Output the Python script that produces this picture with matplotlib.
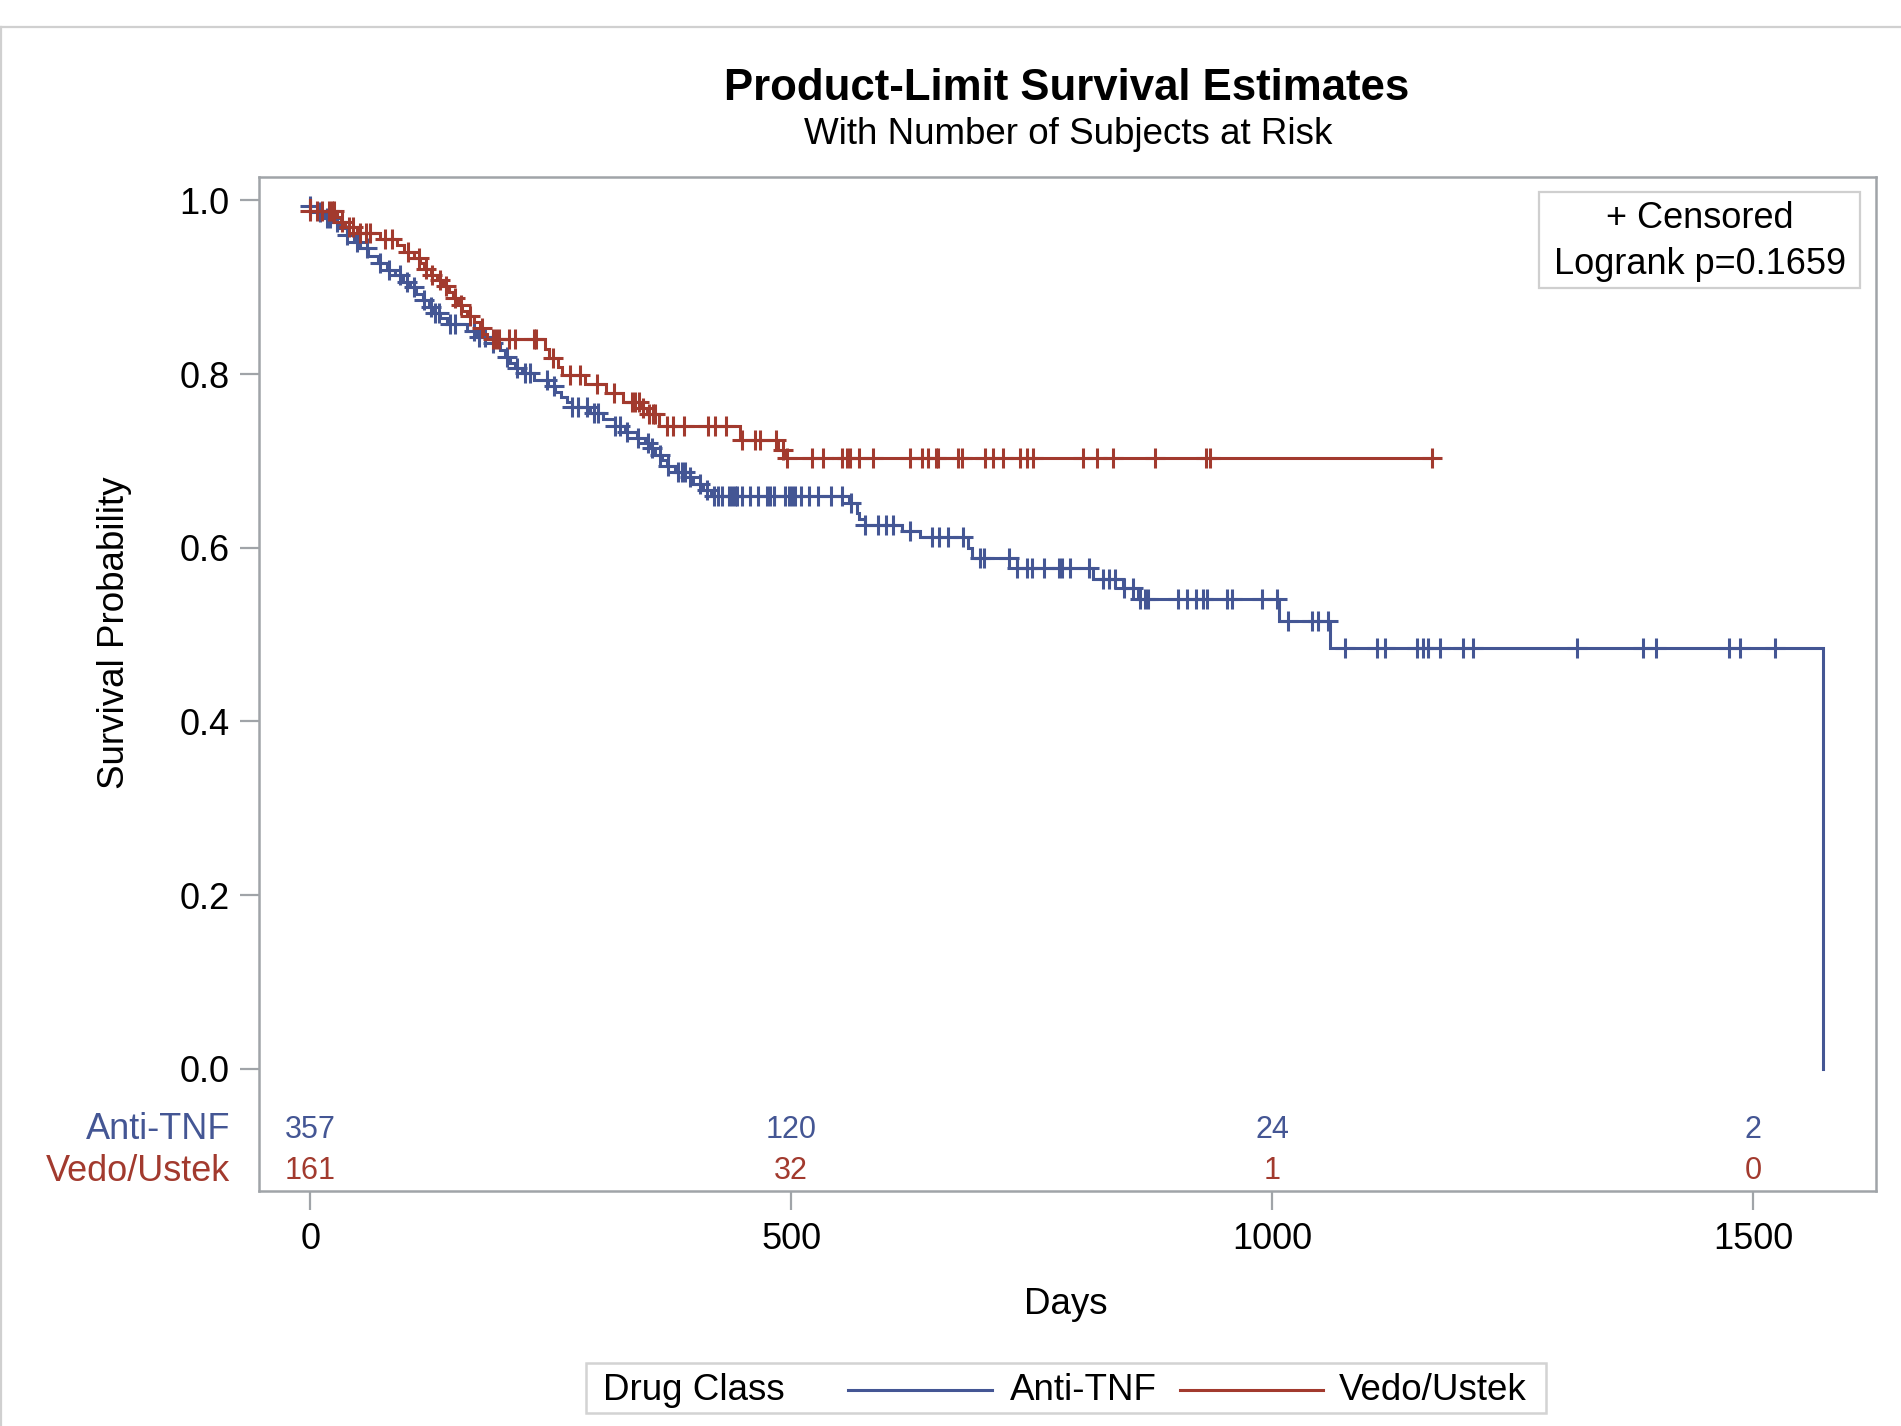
import numpy as np
import matplotlib
matplotlib.use("Agg")
import matplotlib.pyplot as plt
from matplotlib.patches import Rectangle
from matplotlib.lines import Line2D
import matplotlib.transforms as mtransforms

plt.rcParams['font.family'] = ['Liberation Sans', 'DejaVu Sans']

# ---------------- data ----------------
groups = ["Anti-TNF", "Vedo/Ustek"]
colors = ["#445694", "#A23A2E"]

tnf_event_days = [0, 8, 15, 22, 30, 38, 45, 52, 60, 70, 80, 88, 96, 104, 110, 117, 123, 128, 135, 142,
                  163, 173, 190, 197, 202, 208, 213, 220, 233, 247, 254, 261, 267, 272, 291, 304, 317, 327, 340, 348,
                  353, 358, 366, 371, 379, 395, 398, 408, 417, 560, 568, 570, 577, 615, 634, 684, 688, 735, 814, 845,
                  861, 1007, 1060, 1573]
tnf_surv = [0.994, 0.986, 0.980, 0.975, 0.968, 0.960, 0.952, 0.945, 0.936, 0.928, 0.920, 0.914, 0.906, 0.900,
            0.892, 0.885, 0.877, 0.870, 0.864, 0.858, 0.850, 0.843, 0.836, 0.828, 0.820, 0.813, 0.807, 0.801,
            0.793, 0.786, 0.779, 0.774, 0.768, 0.762, 0.755, 0.748, 0.740, 0.733, 0.726, 0.720, 0.715, 0.707,
            0.701, 0.694, 0.687, 0.681, 0.673, 0.666, 0.659, 0.652, 0.640, 0.633, 0.626, 0.619, 0.612, 0.600,
            0.588, 0.577, 0.564, 0.554, 0.541, 0.516, 0.485, 0.0]
tnf_end = 1573
tnf_censor = [0, 10, 17, 20, 28, 38, 48, 59, 72, 82, 93, 100, 108, 118, 125, 130, 134, 145, 150, 170, 175, 182,
              190, 204, 215, 223, 228, 246, 253, 272, 278, 288, 295, 299, 317, 322, 329, 341, 351, 355, 363, 372,
              382, 386, 390, 395, 405, 412, 420, 424, 428, 435, 438, 441, 444, 449, 457, 465, 475, 478, 482, 494,
              498, 501, 504, 510, 518, 528, 541, 553, 562, 577, 590, 598, 606, 623, 646, 654, 663, 679, 696, 700,
              726, 735, 745, 750, 763, 778, 782, 790, 810, 824, 830, 837, 846, 855, 863, 868, 871, 902, 911, 921,
              928, 932, 953, 958, 989, 1005, 1016, 1041, 1048, 1058, 1076, 1109, 1117, 1151, 1157, 1162, 1175,
              1198, 1209, 1317, 1386, 1399, 1475, 1486, 1523]

vedo_event_days = [0, 28, 32, 36, 48, 72, 90, 97, 108, 114, 118, 125, 132, 138, 144, 148, 153, 158, 163, 170,
                   176, 180, 184, 244, 248, 257, 262, 286, 307, 325, 345, 350, 362, 447, 486, 492]
vedo_surv = [0.988, 0.981, 0.975, 0.969, 0.962, 0.955, 0.948, 0.941, 0.934, 0.928, 0.921, 0.914, 0.908, 0.901,
             0.894, 0.887, 0.880, 0.873, 0.867, 0.860, 0.853, 0.846, 0.840, 0.829, 0.818, 0.808, 0.799, 0.788,
             0.778, 0.768, 0.761, 0.754, 0.740, 0.724, 0.713, 0.703]
vedo_end = 1166
vedo_censor = [0, 7, 12, 19, 22, 25, 33, 40, 44, 52, 58, 62, 78, 85, 102, 113, 120, 126, 135, 141, 150, 157, 166,
               178, 190, 193, 196, 206, 213, 232, 235, 252, 270, 280, 298, 316, 334, 338, 342, 346, 352, 356, 358,
               371, 377, 388, 413, 421, 432, 449, 462, 468, 484, 491, 496, 522, 533, 553, 558, 561, 570, 585, 623,
               636, 642, 650, 653, 673, 678, 701, 710, 720, 738, 745, 751, 803, 818, 834, 878, 931, 935, 1166]

risk_days = [0, 500, 1000, 1500]
tnf_at_risk = [357, 120, 24, 2]
vedo_at_risk = [161, 32, 1, 0]

x_ticks = [0, 500, 1000, 1500]
y_ticks = [0.0, 0.2, 0.4, 0.6, 0.8, 1.0]

# ---------------- figure ----------------
W, H = 1901, 1426
fig = plt.figure(figsize=(W / 100, H / 100), dpi=100)

def fx(px):
    return px / W

def fy(py):
    return 1 - py / H

L, R, T, B = 259.3, 1875.6, 176.7, 1191.0
ax = fig.add_axes([fx(L), fy(B), fx(R) - fx(L), fy(T) - fy(B)])
ax.set_xlim(-53.1, 1627.4)
ax.set_ylim(-0.1407, 1.0272)

spine_col = "#a0a4a8"
for s in ax.spines.values():
    s.set_color(spine_col)
    s.set_linewidth(1.8)

ax.set_xticks(x_ticks)
ax.set_xticklabels([str(v) for v in x_ticks])
ax.set_yticks(y_ticks)
ax.set_yticklabels([f"{v:.1f}" for v in y_ticks])
ax.tick_params(axis='both', direction='out', length=13.5, width=1.6, color=spine_col,
               labelsize=26, labelcolor='black')
ax.tick_params(axis='y', pad=8)
ax.tick_params(axis='x', pad=9)


def km_draw(days, surv, end, censor, color, z):
    xs = np.array([0] + list(days) + [end], dtype=float)
    ys = np.array([1.0] + list(surv) + [surv[-1]], dtype=float)
    ax.step(xs, ys, where='post', color=color, lw=2.2, zorder=z, solid_joinstyle='miter')
    dfull = np.array([0] + list(days), dtype=float)
    yfull = np.array([1.0] + list(surv), dtype=float)
    c = np.array(censor, dtype=float)
    idx = np.searchsorted(dfull, c, side='right') - 1
    ax.plot(c, yfull[idx], linestyle='none', marker='+', ms=15, mew=2.2, color=color, zorder=z)


km_draw(tnf_event_days, tnf_surv, tnf_end, tnf_censor, colors[0], 3)
km_draw(vedo_event_days, vedo_surv, vedo_end, vedo_censor, colors[1], 4)

# at-risk table inside axes
row_y = [-0.070, -0.118]
for d, n in zip(risk_days, tnf_at_risk):
    ax.text(d, row_y[0], str(n), ha='center', va='center', fontsize=22, color=colors[0])
for d, n in zip(risk_days, vedo_at_risk):
    ax.text(d, row_y[1], str(n), ha='center', va='center', fontsize=22, color=colors[1])
blend = mtransforms.blended_transform_factory(fig.transFigure, ax.transData)
ax.text(fx(230), row_y[0], groups[0], transform=blend, ha='right', va='center', fontsize=26,
        color=colors[0], clip_on=False)
ax.text(fx(230), row_y[1], groups[1], transform=blend, ha='right', va='center', fontsize=26,
        color=colors[1], clip_on=False)

# titles and labels
fig.text(fx(1067), fy(89), "Product-Limit Survival Estimates", ha='center', va='center',
         fontsize=31.5, fontweight='bold')
fig.text(fx(1068), fy(135), "With Number of Subjects at Risk", ha='center', va='center', fontsize=26.5)
fig.text(fx(115), fy(633), "Survival Probability", ha='center', va='center', rotation=90, fontsize=26.5)
fig.text(fx(1066), fy(1305), "Days", ha='center', va='center', fontsize=26.5)

# inset legend box
fig.patches.append(Rectangle((fx(1539), fy(288)), fx(1860) - fx(1539), fy(192) - fy(288),
                             transform=fig.transFigure, fill=False, edgecolor="#cfcfcf", lw=1.6))
fig.text(fx(1700), fy(219), "+ Censored", ha='center', va='center', fontsize=26)
fig.text(fx(1700), fy(265), "Logrank p=0.1659", ha='center', va='center', fontsize=26)

# bottom legend
fig.patches.append(Rectangle((fx(586), fy(1413)), fx(1546) - fx(586), fy(1363) - fy(1413),
                             transform=fig.transFigure, fill=False, edgecolor="#d3d3d3", lw=1.8))
fig.text(fx(603), fy(1390), "Drug Class", ha='left', va='center', fontsize=26.5)
fig.lines.append(Line2D([fx(848), fx(992)], [fy(1390), fy(1390)], transform=fig.transFigure,
                        color=colors[0], lw=2.2))
fig.text(fx(1010), fy(1390), groups[0], ha='left', va='center', fontsize=26.5)
fig.lines.append(Line2D([fx(1180), fx(1323)], [fy(1390), fy(1390)], transform=fig.transFigure,
                        color=colors[1], lw=2.2))
fig.text(fx(1339), fy(1390), groups[1], ha='left', va='center', fontsize=26.5)

# outer border of the graph area
fig.lines.append(Line2D([0, 1], [fy(27), fy(27)], transform=fig.transFigure, color="#d0d0d0", lw=1.6))
fig.lines.append(Line2D([fx(1), fx(1)], [fy(27), 0], transform=fig.transFigure, color="#d0d0d0", lw=1.6))

fig.savefig("out.png", dpi=100)
